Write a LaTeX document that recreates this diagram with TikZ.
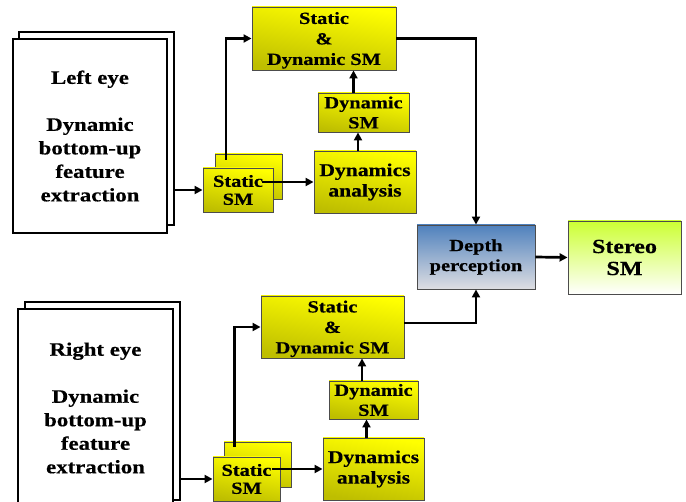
\documentclass[tikz,border=0pt]{standalone}
\usepackage{fontspec}
\setmainfont{Liberation Serif}[FakeStretch=1.2,BoldFeatures={FakeStretch=1.2,FakeBold=0.5}]
\usetikzlibrary{arrows.meta}
\tikzset{
  eyebox/.style={draw,line width=2.6pt,fill=white,align=center,inner sep=0pt,
    font=\fontsize{19}{23.5}\selectfont\bfseries},
  smbox/.style={draw=black!70,line width=0.9pt,align=center,inner sep=0pt,
    top color=yellow,bottom color={rgb,255:red,190;green,190;blue,0},shading angle=-10,
    font=\fontsize{17}{20}\selectfont\bfseries},
  sdbox/.style={smbox,text depth=-4pt,font=\fontsize{17}{20.5}\selectfont\bfseries},
  link/.style={line width=2.7pt,-{Triangle[length=8pt,width=8pt]}},
}
\begin{document}
\begin{tikzpicture}[x=1pt,y=-1pt]
  \useasboundingbox (0,0) rectangle (686,502);
  \draw
    (96.5,128.5) node[eyebox,minimum width=155pt,minimum height=193pt] (leyeback){}
    (90,136) node[eyebox,minimum width=154pt,minimum height=194pt] (leye)
      {Left eye\\[23.5pt]Dynamic\\bottom-up\\feature\\extraction}
    (248.5,176.5) node[smbox,minimum width=67pt,minimum height=45pt] (lstatback){}
    (238,190) node[smbox,minimum width=70pt,minimum height=44pt,
      font=\fontsize{17}{18}\selectfont\bfseries] (lstat){Static\\SM}
    (324,38.5) node[sdbox,minimum width=144pt,minimum height=63pt] (lsd)
      {Static\\\&\\Dynamic SM}
    (363.5,112.5) node[smbox,minimum width=91pt,minimum height=39pt] (ldsm){Dynamic\\SM}
    (365,182) node[smbox,minimum width=102pt,minimum height=62pt,
      font=\fontsize{18}{20.5}\selectfont\bfseries] (lda){Dynamics\\analysis}
    (476,257) node[draw=black!70,line width=0.9pt,align=center,inner sep=0pt,
      top color={rgb,255:red,79;green,129;blue,189},bottom color={rgb,255:red,222;green,222;blue,226},
      minimum width=118pt,minimum height=64pt,font=\fontsize{17}{20}\selectfont\bfseries] (depth)
      {Depth\\perception}
    (624.5,257.5) node[draw=black!70,line width=0.9pt,align=center,inner sep=0pt,
      top color={rgb,255:red,204;green,255;blue,51},bottom color=white,
      minimum width=113pt,minimum height=73pt,font=\fontsize{20}{22}\selectfont\bfseries] (stereo)
      {Stereo\\SM}
    (102.5,401) node[eyebox,minimum width=155pt,minimum height=198pt] (reyeback){}
    (95.5,408) node[eyebox,minimum width=155pt,minimum height=198pt] (reye)
      {Right eye\\[23.5pt]Dynamic\\bottom-up\\feature\\extraction}
    (257.5,464.5) node[smbox,minimum width=67pt,minimum height=45pt] (rstatback){}
    (246.5,479) node[smbox,minimum width=67pt,minimum height=44pt,
      font=\fontsize{17}{18}\selectfont\bfseries] (rstat){Static\\SM}
    (332.5,327) node[sdbox,minimum width=143pt,minimum height=62pt] (rsd)
      {Static\\\&\\Dynamic SM}
    (373.5,400) node[smbox,minimum width=89pt,minimum height=38pt] (rdsm){Dynamic\\SM}
    (373.5,469) node[smbox,minimum width=101pt,minimum height=62pt,
      font=\fontsize{18}{20.5}\selectfont\bfseries] (rda){Dynamics\\analysis};
  \begin{scope}[link]
    \draw (lstat.west -| leyeback.east) -- (lstat.west);
    \draw ([xshift=11.5pt,yshift=-6pt]lstatback.north west) |- (lsd.west);
    \draw ([xshift=-11pt]lda.west -| lstat.east) -- (lda.west);
    \draw ([xshift=-7pt]lda.north) -- ([xshift=-7pt]lda.north |- ldsm.south);
    \draw ([xshift=-10pt]ldsm.north) -- ([xshift=-10pt]ldsm.north |- lsd.south);
    \draw (lsd.east) -| (depth.north);
    \draw (depth.east) -- (stereo.west);
    \draw (rstat.west -| reyeback.east) -- (rstat.west);
    \draw ([xshift=11pt,yshift=-5pt]rstatback.north west) |- (rsd.west);
    \draw ([xshift=-8pt]rda.west -| rstat.east) -- (rda.west);
    \draw ([xshift=-7pt]rda.north) -- ([xshift=-7pt]rda.north |- rdsm.south);
    \draw ([xshift=-11.5pt]rdsm.north) -- ([xshift=-11.5pt]rdsm.north |- rsd.south);
    \draw ([yshift=4pt]rsd.east) -| (depth.south);
  \end{scope}
\end{tikzpicture}
\end{document}
